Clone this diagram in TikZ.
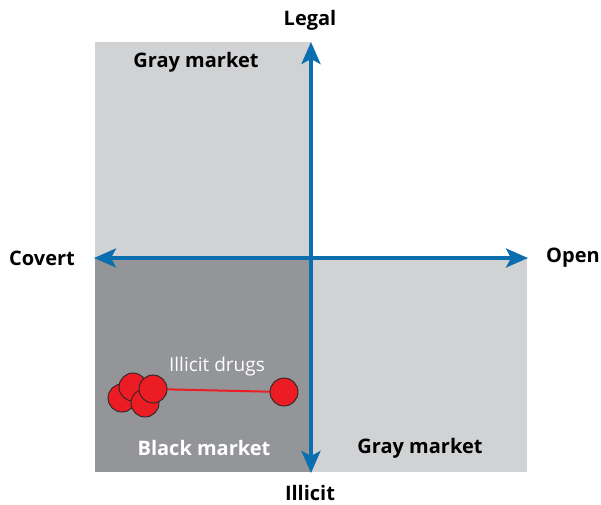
\documentclass[tikz,border=0pt]{standalone}
\usepackage{fontspec}
\setmainfont{Open Sans}
\usetikzlibrary{arrows.meta}
\definecolor{lgray}{HTML}{D1D2D4}
\definecolor{dgray}{HTML}{939598}
\definecolor{axblue}{HTML}{0A6EAF}
\definecolor{dred}{HTML}{EC1C24}
\begin{document}
\begin{tikzpicture}[x=1pt,y=-1pt,
  axis/.style={draw=axblue,line width=3.5pt,-{Stealth[length=22pt,width=19pt,inset=5pt]}},
  lab/.style={font=\fontsize{20}{24}\selectfont\bfseries,text=black,inner sep=0pt},
  dot/.style={circle,draw=black!85,line width=0.9pt,fill=dred,minimum size=28pt,inner sep=0pt}]
\useasboundingbox (0,0) rectangle (601,504);
\fill[lgray] (95,42) rectangle (311,258);
\fill[dgray] (95,258) rectangle (311,472);
\fill[lgray] (311,258) rectangle (527,472);
\coordinate (O) at (311,258);
\coordinate (N) at (311,42);
\coordinate (S) at (311,473);
\coordinate (W) at (94,258);
\coordinate (E) at (528,258);
\draw[axis] (O) -- (N);
\draw[axis] (O) -- (S);
\draw[axis] (O) -- (W);
\draw[axis] (O) -- (E);
\node[lab] (legal) at (310,20) {Legal};
\node[lab] (illicit) at (310,493) {Illicit};
\node[lab] (covert) at (42,258) {Covert};
\node[lab] (open) at (573,258) {Open};
\node[lab] (gm1) at (196,62) {Gray market};
\node[lab,text=white] (bm) at (204,448) {Black market};
\node[lab] (gm2) at (420,448) {Gray market};
\node[font=\fontsize{19}{22}\selectfont,text=white,inner sep=0pt] (drugs) at (217,367) {Illicit drugs};
\node[dot] (a) at (122,398) {};
\node[dot] (b) at (133,387) {};
\node[dot] (c) at (145,403) {};
\draw[dred,line width=2pt] (153,389) -- (283,392);
\node[dot] (d) at (153,389) {};
\node[dot] (e) at (284,392) {};
\end{tikzpicture}
\end{document}
